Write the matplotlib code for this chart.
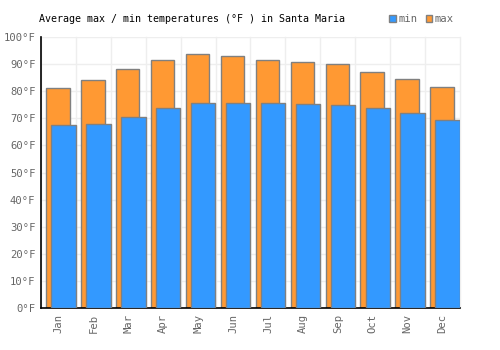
import matplotlib
matplotlib.use("Agg")
import matplotlib.pyplot as plt
from matplotlib.patches import Patch
import numpy as np

months = ["Jan", "Feb", "Mar", "Apr", "May", "Jun", "Jul", "Aug", "Sep", "Oct", "Nov", "Dec"]
max_temps = [81.1, 84.0, 88.1, 91.4, 93.6, 92.9, 91.4, 90.7, 89.9, 87.3, 84.4, 81.4]
min_temps = [67.4, 67.8, 70.4, 73.7, 75.5, 75.5, 75.5, 75.2, 74.8, 73.7, 71.8, 69.3]
yticks = list(range(0, 101, 10))
ytick_labels = [f"{v}°F" for v in yticks]

plt.rcParams['font.family'] = ['DejaVu Sans Mono']

fig = plt.figure(figsize=(5, 3.5), dpi=100)
ax = fig.add_axes([0.082, 0.12, 0.838, 0.774])

x = np.arange(len(months))
orange = "#FF9933"
blue = "#3399FF"
edge = "#808080"

ax.bar(x - 0.015, max_temps, width=0.67, color=orange, edgecolor=edge, linewidth=1, zorder=2)
ax.bar(x + 0.145, min_temps, width=0.70, color=blue, edgecolor=edge, linewidth=1, zorder=3)

ax.set_xlim(-0.5, 11.5)
ax.set_ylim(0, 100)
ax.set_yticks(yticks)
ax.set_yticklabels(ytick_labels, fontsize=7.6, color="#666666")
ax.set_xticks(x)
ax.set_xticklabels(months, rotation=90, fontsize=7.6, color="#666666")
ax.tick_params(axis='both', length=0, pad=4)

ax.set_xticks(np.arange(-0.5, 12, 1), minor=True)
ax.grid(False)
ax.xaxis.grid(True, which='minor', color="#eeeeee", linewidth=1, zorder=0, clip_on=False)
ax.yaxis.grid(True, which='major', color="#eeeeee", linewidth=1, zorder=0)
ax.set_axisbelow(True)
ax.tick_params(axis='x', which='minor', length=0)

for s in ['top', 'right']:
    ax.spines[s].set_visible(False)
ax.spines['left'].set_color('black')
ax.spines['bottom'].set_color('black')
ax.spines['left'].set_linewidth(1.2)
ax.spines['bottom'].set_linewidth(1.2)

fig.text(0.078, 0.945, "Average max / min temperatures (°F ) in Santa Maria", fontsize=7.2, color="black", va='center', ha='left')

handles = [Patch(facecolor=blue, edgecolor=edge, label="min"),
           Patch(facecolor=orange, edgecolor=edge, label="max")]
leg = fig.legend(handles=handles, loc='center right', bbox_to_anchor=(0.908, 0.945), ncol=2, frameon=False,
                 fontsize=7.6, handlelength=0.6, handleheight=0.6, handletextpad=0.25, columnspacing=0.8,
                 borderpad=0, borderaxespad=0)
for t in leg.get_texts():
    t.set_color("#666666")

fig.savefig("out.png", dpi=100)
